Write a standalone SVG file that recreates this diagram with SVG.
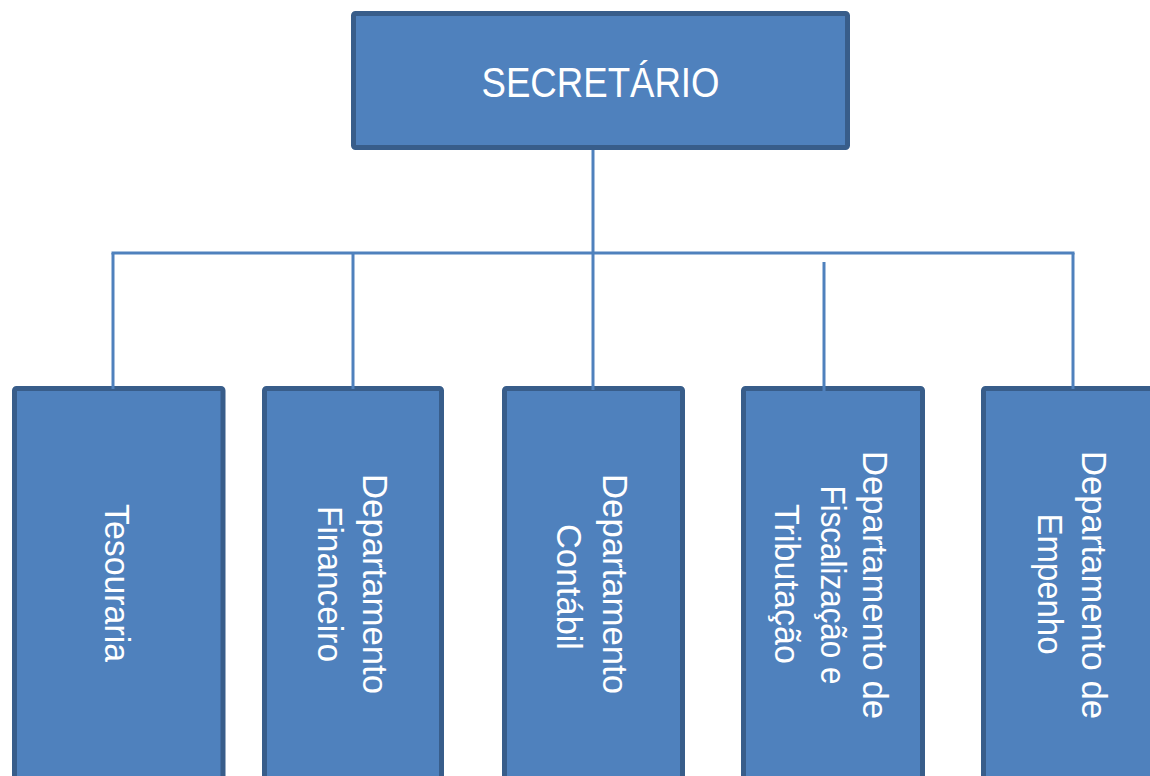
<svg xmlns="http://www.w3.org/2000/svg" width="1150" height="776" viewBox="0 0 1150 776">
<style>
.box{fill:#4f81bd;stroke:#385d8a;stroke-width:5;stroke-linejoin:round}
.lbl{font-family:"Liberation Sans",Arial,sans-serif;fill:#ffffff;text-anchor:middle}
.v{font-size:35px}
.conn line{stroke:#4f81bd;stroke-width:3;fill:none}
</style>
<rect width="1150" height="776" fill="#ffffff"/>
<g id="secretario">
<rect class="box" x="353.5" y="13.5" width="494" height="134" rx="2"/>
<text class="lbl" x="600.5" y="97" font-size="43" textLength="238" lengthAdjust="spacingAndGlyphs">SECRETÁRIO</text>
</g>
<g id="tesouraria">
<rect class="box" x="14.5" y="388.5" width="208.5" height="420" rx="2"/>
<text class="lbl v" transform="translate(105,583) rotate(90)" textLength="158" lengthAdjust="spacingAndGlyphs">Tesouraria</text>
</g>
<g id="financeiro">
<rect class="box" x="264.5" y="388.5" width="177" height="420" rx="2"/>
<text class="lbl v" transform="translate(363,584) rotate(90)" textLength="220" lengthAdjust="spacingAndGlyphs">Departamento</text>
<text class="lbl v" transform="translate(318,584) rotate(90)" textLength="156" lengthAdjust="spacingAndGlyphs">Financeiro</text>
</g>
<g id="contabil">
<rect class="box" x="504.5" y="388.5" width="178" height="420" rx="2"/>
<text class="lbl v" transform="translate(603,584) rotate(90)" textLength="220" lengthAdjust="spacingAndGlyphs">Departamento</text>
<text class="lbl v" transform="translate(557,587) rotate(90)" textLength="126" lengthAdjust="spacingAndGlyphs">Contábil</text>
</g>
<g id="fiscalizacao">
<rect class="box" x="743.5" y="388.5" width="179" height="420" rx="2"/>
<text class="lbl v" transform="translate(863,585) rotate(90)" textLength="268" lengthAdjust="spacingAndGlyphs">Departamento de</text>
<text class="lbl v" transform="translate(821,585) rotate(90)" textLength="199" lengthAdjust="spacingAndGlyphs">Fiscalização e</text>
<text class="lbl v" transform="translate(775,584) rotate(90)" textLength="160" lengthAdjust="spacingAndGlyphs">Tributação</text>
</g>
<g id="empenho">
<rect class="box" x="983.5" y="388.5" width="177" height="420" rx="2"/>
<text class="lbl v" transform="translate(1082,585) rotate(90)" textLength="268" lengthAdjust="spacingAndGlyphs">Departamento de</text>
<text class="lbl v" transform="translate(1038,584) rotate(90)" textLength="141" lengthAdjust="spacingAndGlyphs">Empenho</text>
</g>
<g id="connectors" class="conn">
<line x1="593" y1="150" x2="593" y2="390"/>
<line x1="111.5" y1="253" x2="1074.5" y2="253"/>
<line x1="113" y1="253" x2="113" y2="389"/>
<line x1="353" y1="253" x2="353" y2="389"/>
<line x1="824" y1="262" x2="824" y2="391"/>
<line x1="1073" y1="253" x2="1073" y2="389"/>
</g>
</svg>
